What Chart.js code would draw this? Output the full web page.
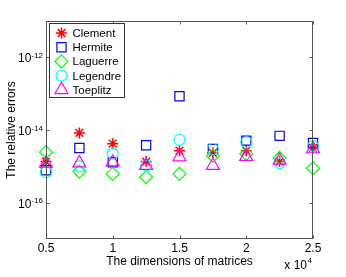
<!DOCTYPE html>
<html>
<head>
<meta charset="utf-8">
<script src="https://cdn.jsdelivr.net/npm/chart.js@4/dist/chart.umd.min.js"></script>
<style>
  body { margin: 0; background: #fff; }
  canvas { display: block; }
</style>
</head>
<body>
<canvas id="errChart" width="346" height="277"></canvas>
<script>
// matrix dimensions, in units of 10^4
const dims = [0.5, 0.75, 1, 1.25, 1.5, 1.75, 2, 2.25, 2.5]

// relative errors per matrix family
const clementErr  = [1.35e-15, 8.3e-15, 4.2e-15, 1.35e-15, 2.7e-15, 2.35e-15, 2.7e-15, 1.35e-15, 3.2e-15]
const hermiteErr  = [7.8e-16, 3.2e-15, 1.3e-15, 3.8e-15, 8.5e-14, 3.0e-15, 5.1e-15, 6.9e-15, 4.4e-15]
const laguerreErr = [2.45e-15, 7.2e-16, 6.2e-16, 5.0e-16, 6.2e-16, 1.95e-15, 2.2e-15, 1.7e-15, 8.9e-16]
const legendreErr = [6.9e-16, 1.0e-15, 2.24e-15, 1.05e-15, 5.4e-15, 3.0e-15, 4.6e-15, 1.23e-15, 3.55e-15]
const toeplitzErr = [1.2e-15, 1.23e-15, 1.3e-15, 1.05e-15, 1.8e-15, 1.05e-15, 1.85e-15, 1.45e-15, 3.0e-15]

const seriesNames = ['Clement', 'Hermite', 'Laguerre', 'Legendre', 'Toeplitz']
const seriesData = [clementErr, hermiteErr, laguerreErr, legendreErr, toeplitzErr]
const seriesColors = ['#ff0000', '#0000ff', '#00ff00', '#00ffff', '#ff00ff']
const seriesStyles = ['star', 'rect', 'rectRot', 'circle', 'triangle']
const seriesRadius = [5.5, 6.5, 6.5, 5.5, 7.5]

const xTicks = [0.5, 1, 1.5, 2, 2.5]
const xTickLabels = ['0.5', '1', '1.5', '2', '2.5']
const yTickExps = [-12, -14, -16]

const FONT = '"Liberation Sans", Arial, sans-serif'

function makeDatasets() {
  return seriesNames.map((name, i) => ({
    label: name,
    data: dims.map((d, j) => ({ x: d, y: seriesData[i][j] })),
    showLine: false,
    clip: false,
    pointStyle: seriesStyles[i],
    pointRadius: seriesRadius[i],
    pointHoverRadius: seriesRadius[i],
    pointBorderWidth: i === 0 ? 1.5 : 1.2,
    pointBorderColor: seriesColors[i],
    pointBackgroundColor: 'rgba(0,0,0,0)',
    order: seriesNames.length - i
  }))
}

// axes frame, inward ticks, tick labels, titles and legend (MATLAB look)
const matlabAxes = {
  id: 'matlabAxes',
  afterDraw(chart) {
    const ctx = chart.ctx
    const xs = chart.scales.x
    const ys = chart.scales.y
    const a = chart.chartArea
    const L = Math.round(a.left) + 0.5, R = Math.round(a.right) - 0.5
    const T = Math.round(a.top) + 0.5, B = Math.round(a.bottom) - 0.5
    ctx.save()
    ctx.strokeStyle = '#555'
    ctx.lineWidth = 1
    ctx.strokeRect(L, T, R - L, B - T)

    ctx.beginPath()
    xTicks.forEach(v => {
      const px = Math.round(xs.getPixelForValue(v)) + 0.5
      ctx.moveTo(px, B); ctx.lineTo(px, B - 3)
      ctx.moveTo(px, T); ctx.lineTo(px, T + 3)
    })
    yTickExps.forEach(e => {
      const py = Math.round(ys.getPixelForValue(Math.pow(10, e))) + 0.5
      ctx.moveTo(L, py); ctx.lineTo(L + 3, py)
      ctx.moveTo(R, py); ctx.lineTo(R - 3, py)
    })
    ctx.stroke()

    ctx.fillStyle = '#000'
    ctx.font = '12px ' + FONT
    ctx.textBaseline = 'alphabetic'
    ctx.textAlign = 'center'
    xTicks.forEach((v, i) => {
      ctx.fillText(xTickLabels[i], xs.getPixelForValue(v), a.bottom + 13)
    })

    yTickExps.forEach(e => {
      const py = ys.getPixelForValue(Math.pow(10, e))
      ctx.font = '8px ' + FONT
      ctx.textAlign = 'right'
      const expStr = String(e)
      ctx.fillText(expStr, a.left - 3, py + 0.5)
      const ew = ctx.measureText(expStr).width
      ctx.font = '12px ' + FONT
      ctx.fillText('10', a.left - 3 - ew, py + 5)
    })

    ctx.font = '12px ' + FONT
    ctx.textAlign = 'center'
    ctx.fillText('The dimensions of matrices', (a.left + a.right) / 2, a.bottom + 26)

    ctx.textAlign = 'right'
    ctx.font = '8px ' + FONT
    ctx.fillText('4', a.right - 1, a.bottom + 24)
    ctx.font = '12px ' + FONT
    ctx.fillText('x 10', a.right - 6, a.bottom + 30)

    ctx.save()
    ctx.translate(15, (a.top + a.bottom) / 2)
    ctx.rotate(-Math.PI / 2)
    ctx.textAlign = 'center'
    ctx.fillText('The relative errors', 0, 0)
    ctx.restore()

    // legend box
    const lx = a.left + 3.5, ly = a.top + 2.5, lw = 75, lh = 74
    ctx.fillStyle = '#fff'
    ctx.fillRect(lx, ly, lw, lh)
    ctx.strokeStyle = '#333'
    ctx.strokeRect(lx, ly, lw, lh)
    seriesNames.forEach((name, i) => {
      const cy = ly + 9.5 + i * 14.2
      ctx.strokeStyle = seriesColors[i]
      ctx.fillStyle = 'rgba(0,0,0,0)'
      ctx.lineWidth = i === 0 ? 1.5 : 1.2
      Chart.helpers.drawPoint(ctx, {
        pointStyle: seriesStyles[i],
        radius: seriesRadius[i],
        rotation: 0,
        borderWidth: ctx.lineWidth
      }, lx + 12, cy)
      ctx.fillStyle = '#000'
      ctx.font = '11.5px ' + FONT
      ctx.textAlign = 'left'
      ctx.fillText(name, lx + 23, cy + 4)
    })
    ctx.restore()
  }
}

const errChartCtx = document.getElementById('errChart')
new Chart(errChartCtx, {
  type: 'scatter',
  data: { datasets: makeDatasets() },
  options: {
    responsive: false,
    animation: false,
    devicePixelRatio: 1,
    layout: { padding: { top: 21, right: 33, left: 0, bottom: 0 } },
    plugins: { legend: { display: false }, tooltip: { enabled: false } },
    scales: {
      x: {
        type: 'linear', min: 0.5, max: 2.5,
        ticks: { display: false },
        grid: { display: false },
        border: { display: false },
        afterFit(scale) { scale.height = 38 }
      },
      y: {
        type: 'logarithmic', min: 1e-17, max: 1e-11,
        ticks: { display: false },
        grid: { display: false },
        border: { display: false },
        afterFit(scale) { scale.width = 46 }
      }
    }
  },
  plugins: [matlabAxes]
})
</script>
</body>
</html>
